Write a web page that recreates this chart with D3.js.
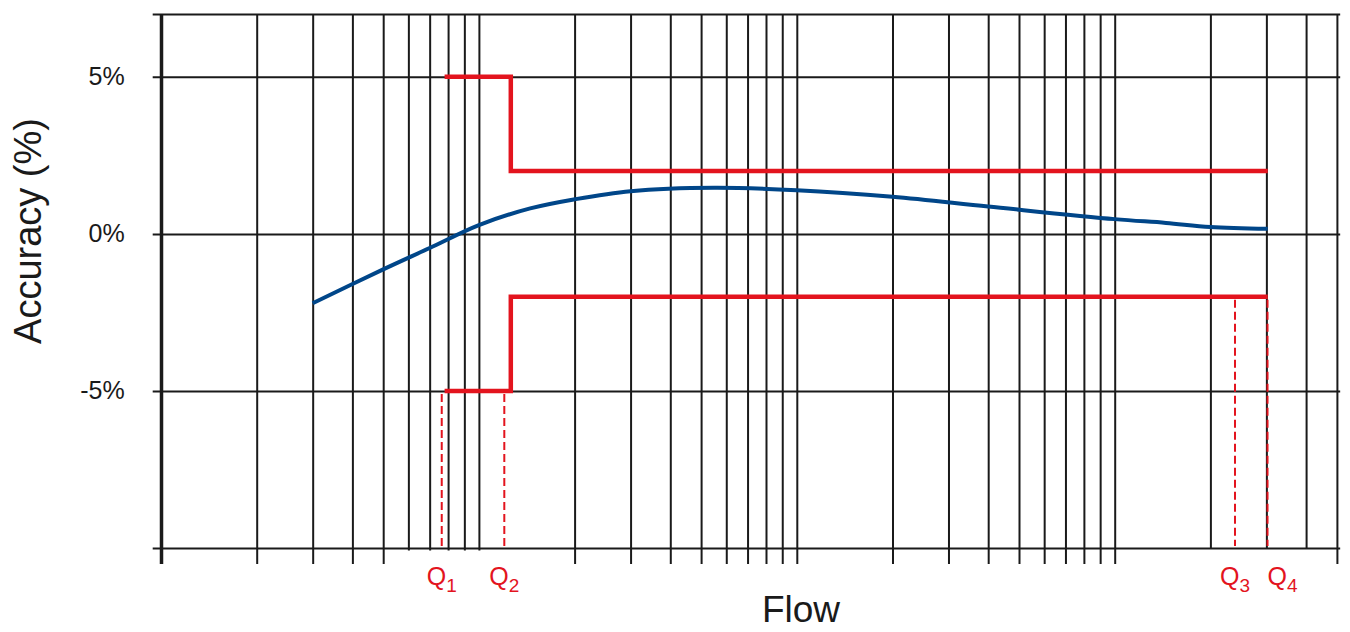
<!DOCTYPE html>
<html>
<head>
<meta charset="utf-8">
<script src="https://cdn.jsdelivr.net/npm/d3@7"></script>
<style>
	body { margin: 0; background: #fff; }
	svg { display: block; font-family: "Liberation Sans", Arial, sans-serif; }
</style>
</head>
<body>
<div id="container"></div>
<script>
// meter error curve (flow vs accuracy %)
const flow = [3, 5, 7, 10, 14.5, 20, 30, 55, 100, 200, 400, 1000, 1450, 2000, 3030];
const accuracy = [-2.21, -1.13, -0.45, 0.28, 0.81, 1.1, 1.36, 1.47, 1.39, 1.18, 0.87, 0.47, 0.35, 0.22, 0.16];

// maximum permissible error limits
const limitFlow = [7.8, 12.6, 3030];
const upperLimit = [5, 2, 2];
const lowerLimit = [-5, -2, -2];

// Q1..Q4 marker flows and where their dashed drop lines start
const qNames = ["1", "2", "3", "4"];
const qFlow = [7.64, 12.02, 2390, 3025];
const qFrom = [-5, -5, -2, -2];

// grid
const yGrid = [-10, -5, 0, 5, 7];
const yLabels = [-5, 0, 5];
const longTicks = [1, 2, 3, 4, 5, 20, 30, 40, 50, 60, 70, 80, 90, 100, 200, 300, 400, 500, 600, 700, 800, 900, 1000, 5000];
const shortTicks = [6, 7, 8, 9, 10];
const noTailTicks = [2000, 3000, 4000];

window.addEventListener("load", () => drawChart());

function drawChart() {
	const width = 1350;
	const height = 632;
	const top = 14;
	const bottom = 548;
	const gridLeft = 152.7;
	const ink = "#1a1a1a";
	const red = "#e3141e";
	const blue = "#004689";

	const svg = d3
		.select("#container")
		.append("svg")
		.attr("width", width)
		.attr("height", height);

	const x = d3.scaleLog().domain([1, 1000]).range([161, 1114.7]);
	const y = d3.scaleLinear().domain([-10, 7]).range([bottom, top]);
	const gridRight = x(5120);

	// vertical grid lines, three groups with different tails below the frame
	function vGrid(values, tail) {
		const g = svg
			.append("g")
			.attr("transform", `translate(0, ${bottom + tail})`)
			.call(
				d3
					.axisBottom(x)
					.tickValues(values)
					.tickFormat("")
					.tickSize(-(bottom + tail - top))
			);
		g.select(".domain").remove();
		g.selectAll(".tick line")
			.attr("stroke", ink)
			.attr("stroke-width", (d) => (d === 1 ? 3.5 : 2));
		return g;
	}
	vGrid(longTicks, 16);
	vGrid(shortTicks, 2.5);
	vGrid(noTailTicks, 0);

	// horizontal grid + y labels
	const yAxis = svg
		.append("g")
		.attr("transform", `translate(${gridLeft}, 0)`)
		.call(
			d3
				.axisLeft(y)
				.tickValues(yGrid)
				.tickSize(-(gridRight - gridLeft))
				.tickPadding(28)
				.tickFormat((d) => (yLabels.includes(d) ? d + "%" : ""))
		);
	yAxis.select(".domain").remove();
	yAxis.selectAll(".tick line").attr("stroke", ink).attr("stroke-width", 2);
	yAxis
		.selectAll(".tick text")
		.attr("fill", ink)
		.style("font-size", "25px")
		.style("font-family", "'Liberation Sans', Arial, sans-serif");

	// dashed Q drop lines
	svg
		.append("g")
		.selectAll("line")
		.data(qFlow)
		.enter()
		.append("line")
		.attr("x1", (d) => x(d))
		.attr("x2", (d) => x(d))
		.attr("y1", (d, i) => y(qFrom[i]) + 3)
		.attr("y2", bottom - 2)
		.attr("stroke", red)
		.attr("stroke-width", 2)
		.attr("stroke-dasharray", "8,4");

	// limit lines
	const limitLine = d3
		.line()
		.x((d, i) => x(limitFlow[i]))
		.y((d) => y(d))
		.curve(d3.curveStepAfter);

	[upperLimit, lowerLimit].forEach((lim) => {
		svg
			.append("path")
			.attr("d", limitLine(lim))
			.attr("fill", "none")
			.attr("stroke", red)
			.attr("stroke-width", 4.5)
			.attr("stroke-linejoin", "miter");
	});

	// error curve
	const curve = d3
		.line()
		.x((d, i) => x(flow[i]))
		.y((d) => y(d))
		.curve(d3.curveCatmullRom.alpha(0.5));

	svg
		.append("path")
		.attr("d", curve(accuracy))
		.attr("fill", "none")
		.attr("stroke", blue)
		.attr("stroke-width", 4);

	// Q labels
	const qLabels = svg
		.append("g")
		.selectAll("text")
		.data(qNames)
		.enter()
		.append("text")
		.attr("x", (d, i) => x(qFlow[i]))
		.attr("y", 585)
		.attr("text-anchor", (d, i) => (i === qNames.length - 1 ? "start" : "middle"))
		.attr("fill", red)
		.style("font-size", "25px");
	qLabels.append("tspan").text("Q");
	qLabels
		.append("tspan")
		.attr("dy", 6.5)
		.style("font-size", "19px")
		.text((d) => d);

	// axis titles
	svg
		.append("text")
		.attr("x", 801)
		.attr("y", 621.5)
		.attr("text-anchor", "middle")
		.attr("fill", ink)
		.style("font-size", "37px")
		.text("Flow");

	svg
		.append("text")
		.attr("transform", "translate(41, 231) rotate(-90)")
		.attr("text-anchor", "middle")
		.attr("fill", ink)
		.style("font-size", "38px")
		.text("Accuracy (%)");
}
</script>
</body>
</html>
